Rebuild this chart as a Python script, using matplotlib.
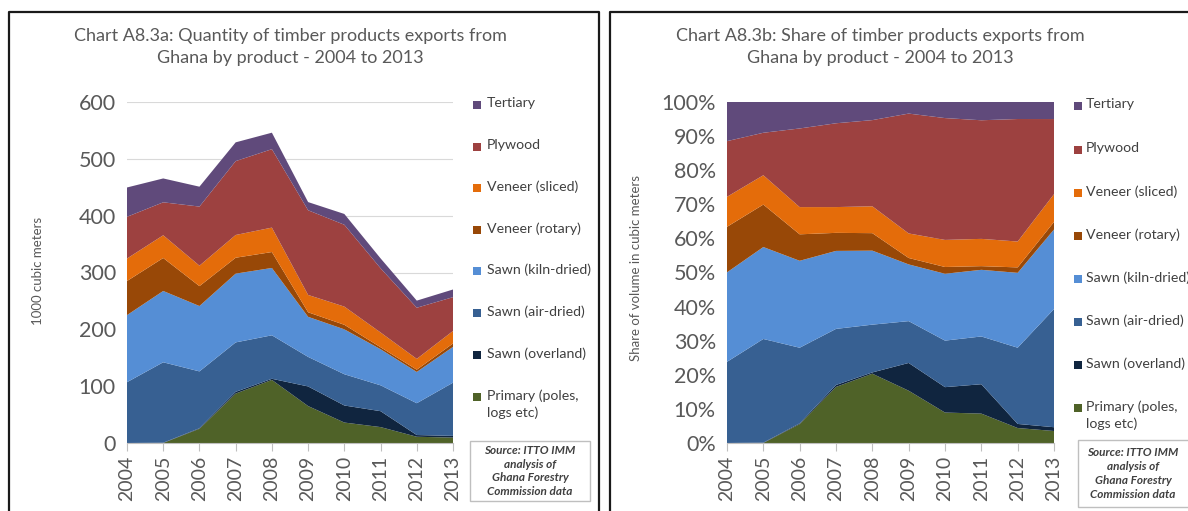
import numpy as np
import matplotlib.pyplot as plt
from matplotlib.patches import Rectangle
from matplotlib.lines import Line2D

plt.rcParams['font.family'] = ['Lato', 'DejaVu Sans']

years = [2004, 2005, 2006, 2007, 2008, 2009, 2010, 2011, 2012, 2013]

primary = [0, 0, 25, 87, 111, 65, 36, 28, 11, 9.5]
overland = [0, 0.5, 1, 3, 2, 34.5, 30, 28, 3, 3]
air_dried = [107, 141.5, 100, 87, 76.5, 52, 55, 45.5, 56, 93.6]
kiln_dried = [118, 125.5, 115, 121, 118.5, 70.5, 79, 63.5, 55, 63]
ven_rotary = [60, 58, 35, 28, 28, 8, 8, 3.5, 4, 6]
ven_sliced = [39.6, 40, 36, 40, 43, 30.5, 32, 26, 19, 22]
plywood = [73.4, 58, 104, 130, 138, 149, 144, 113, 90, 59.5]
tertiary = [51.6, 42, 35, 33, 29, 14.4, 19, 17.4, 12.5, 13.5]

series = [primary, overland, air_dried, kiln_dried, ven_rotary, ven_sliced, plywood, tertiary]
labels = ["Primary (poles,\nlogs etc)", "Sawn (overland)", "Sawn (air-dried)", "Sawn (kiln-dried)",
          "Veneer (rotary)", "Veneer (sliced)", "Plywood", "Tertiary"]
colors = ["#4F6228", "#10253F", "#376092", "#558ED5", "#984807", "#E46C0A", "#9D4140", "#604A7B"]

W, H = 1188, 511
fig = plt.figure(figsize=(W / 100, H / 100), dpi=100)

def fx(px):
    return px / W

def fy(py):
    return 1 - py / H

grey = "#595959"

def style_axes(ax):
    for s in ["top", "right", "left"]:
        ax.spines[s].set_visible(False)
    ax.spines["bottom"].set_color("#bfbfbf")
    ax.set_xlim(2004, 2013)
    ax.set_xticks(years)
    ax.set_xticklabels([str(y) for y in years], rotation=90, fontsize=14, color=grey)
    ax.tick_params(axis="x", direction="out", length=6, color="#bfbfbf", pad=3)
    ax.tick_params(axis="y", length=0, labelsize=15.5, labelcolor=grey, pad=8)
    ax.grid(axis="y", color="#d9d9d9", linewidth=0.8)
    ax.set_axisbelow(True)

# ---- left: quantity
ax1 = fig.add_axes([fx(127), fy(443), fx(453) - fx(127), fy(102) - fy(443)])
ax1.stackplot(years, *series, colors=colors, linewidth=0)
style_axes(ax1)
ax1.set_ylim(0, 600)
ax1.set_yticks(range(0, 601, 100))
fig.text(fx(38), fy(271), "1000 cubic meters", rotation=90, ha="center", va="center", fontsize=9.5, color=grey)

# ---- right: share
data = np.array(series, dtype=float)
shares = data / data.sum(axis=0) * 100
ax2 = fig.add_axes([fx(727), fy(443), fx(1054) - fx(727), fy(102) - fy(443)])
ax2.stackplot(years, *shares, colors=colors, linewidth=0)
style_axes(ax2)
ax2.set_ylim(0, 100)
ax2.set_yticks(range(0, 101, 10))
ax2.set_yticklabels([f"{v}%" for v in range(0, 101, 10)])
fig.text(fx(636), fy(268), "Share of volume in cubic meters", rotation=90, ha="center", va="center", fontsize=9.5, color=grey)

# titles
fig.text(fx(290), fy(47), "Chart A8.3a: Quantity of timber products exports from\nGhana by product - 2004 to 2013",
         ha="center", va="center", fontsize=13, color=grey, linespacing=1.45)
fig.text(fx(880), fy(47), "Chart A8.3b: Share of timber products exports from\nGhana by product - 2004 to 2013",
         ha="center", va="center", fontsize=13, color=grey, linespacing=1.45)

# legends
def draw_legend(x_sq, x_txt, y_rows):
    for lab, col, y in zip(labels[::-1], colors[::-1], y_rows):
        fig.patches.append(Rectangle((fx(x_sq), fy(y + 4)), 8 / W, 8 / H, transform=fig.transFigure,
                                     facecolor=col, edgecolor="none"))
        fig.text(fx(x_txt), fy(y - 8), lab, ha="left", va="top", fontsize=10.2, color="#404040", linespacing=1.45)

draw_legend(473, 487, [105, 147, 188, 230, 271, 313, 355, 397])
draw_legend(1074, 1086, [106, 150, 193, 236, 279, 322, 365, 408])

# source boxes
src = "Source: ITTO IMM\nanalysis of\nGhana Forestry\nCommission data"
for x0, y0, x1, y1, xc in [(470, 441, 590, 501, 530), (1078, 440, 1192, 507, 1133)]:
    fig.patches.append(Rectangle((fx(x0), fy(y1)), (x1 - x0) / W, (y1 - y0) / H, transform=fig.transFigure,
                                 facecolor="white", edgecolor="#bfbfbf", linewidth=1))
    fig.text(fx(xc), fy((y0 + y1) / 2), src, ha="center", va="center",
             fontsize=8.5, fontweight="bold", fontstyle="italic", color="#404040", linespacing=1.3)

# panel frames
for xs, ys in [([9, 9, 599, 599], [H, 12, 12, H]), ([610, 610, W], [H, 12, 12])]:
    fig.add_artist(Line2D([fx(x) for x in xs], [fy(y) for y in ys], transform=fig.transFigure,
                          color="#1a1a1a", linewidth=1.6))

fig.savefig("out.png", dpi=100)
